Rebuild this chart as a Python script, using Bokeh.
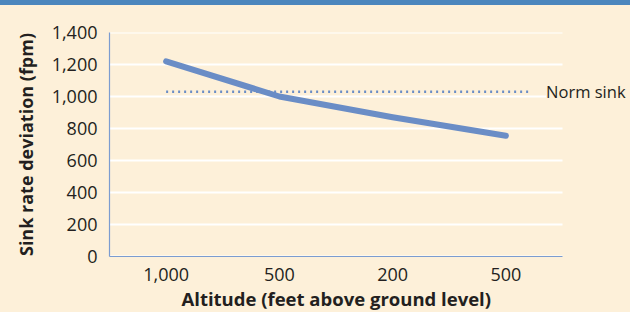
from bokeh.plotting import figure
from bokeh.models import FixedTicker, Label, NumeralTickFormatter, Title
from bokeh.embed import file_html
from bokeh.resources import INLINE

# ---- data ----
altitude_labels = ["1,000", "500", "200", "500"]
altitude_pos = [0, 1, 2, 3]
sink_rate = [1220, 1000, 870, 755]
norm_sink_value = 1030
norm_span = [0, 3.22]
y_ticks = [0, 200, 400, 600, 800, 1000, 1200, 1400]

BG = "#fdf0d9"
BAR = "#4b86bd"
LINE = "#6a8dc6"
AXIS = "#7b9cd0"
TEXT = "#231f20"
FONT = "Open Sans"

X_START, X_END = -0.5, 3.5
# frame extends past the category area to leave room for the "Norm sink" note
X_VIEW_END = X_END + 68 * (X_END - X_START) / 453

p = figure(frame_width=521, frame_height=224,
           x_range=(X_START, X_VIEW_END), y_range=(0, 1400),
           output_backend="svg", toolbar_location=None,
           min_border_left=109, min_border_right=0,
           min_border_top=32, min_border_bottom=56,
           background_fill_color=BG, border_fill_color=None,
           outline_line_color=None)

p.xgrid.grid_line_color = None
p.ygrid.grid_line_color = None

# horizontal grid lines only across the category area
p.segment(x0=X_START, x1=X_END, y0=y_ticks, y1=y_ticks,
          line_color="white", line_width=2)

p.xaxis.ticker = FixedTicker(ticks=altitude_pos)
p.xaxis.major_label_overrides = {pos: lab for pos, lab in zip(altitude_pos, altitude_labels)}
p.xaxis.bounds = (X_START, X_END)
p.yaxis.ticker = FixedTicker(ticks=y_ticks)
p.yaxis.formatter = NumeralTickFormatter(format="0,0")

for ax in (p.xaxis, p.yaxis):
    ax.axis_line_color = AXIS
    ax.axis_line_width = 1.2
    ax.major_tick_line_color = None
    ax.minor_tick_line_color = None
    ax.major_label_text_font = FONT
    ax.major_label_text_font_size = "18px"
    ax.major_label_text_color = TEXT

p.yaxis.axis_label = "Sink rate deviation (fpm)"
p.yaxis.axis_label_text_font = FONT
p.yaxis.axis_label_text_font_style = "bold"
p.yaxis.axis_label_text_font_size = "18px"
p.yaxis.axis_label_text_color = TEXT
p.xaxis.major_label_standoff = 5
p.yaxis.major_label_standoff = 6
p.yaxis.axis_label_standoff = 11

# x-axis title centred under the category area
xt = Title(text="Altitude (feet above ground level)", align="left", offset=72,
           text_font=FONT, text_font_style="bold", text_font_size="18.5px",
           text_color=TEXT, standoff=0)
p.add_layout(xt, "below")

# norm sink dotted line
p.line(norm_span, [norm_sink_value, norm_sink_value], line_color=LINE,
       line_width=2.5, line_dash="2 4")

# main line
p.line(altitude_pos, sink_rate, line_color=LINE, line_width=6,
       line_cap="round", line_join="round")

lbl = Label(x=3.355, y=norm_sink_value, text="Norm sink",
            text_baseline="middle", text_align="left",
            text_font=FONT, text_font_size="16.5px", text_color=TEXT,
            background_fill_color=BG)
p.add_layout(lbl)

template = """{% block preamble %}<style>
body { background: linear-gradient(""" + BAR + """ 0px, """ + BAR + """ 5px, """ + BG + """ 5px) no-repeat, """ + BG + """; }
</style>{% endblock %}"""

open("out.html", "w").write(file_html(p, INLINE, template=template))
